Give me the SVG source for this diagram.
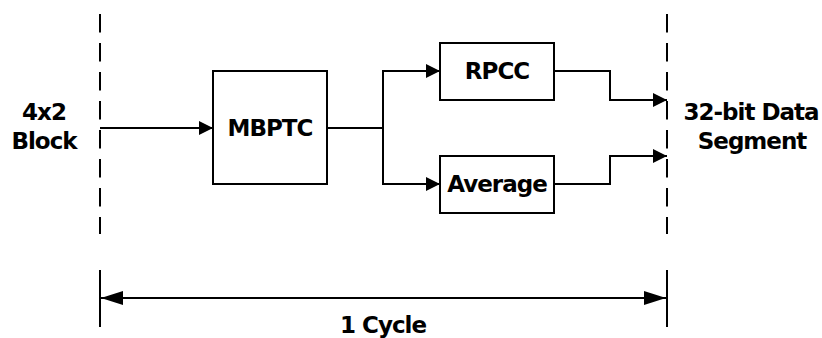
<svg xmlns="http://www.w3.org/2000/svg" width="822" height="338" viewBox="0 0 822 338">
<style>
.box{fill:#fff;stroke:#000;stroke-width:2}
.ln{fill:none;stroke:#000;stroke-width:2}
.dash{fill:none;stroke:#000;stroke-width:2;stroke-dasharray:18.5 10.5}
text{font-family:"DejaVu Sans","Liberation Sans",sans-serif;font-weight:bold;font-size:23px;letter-spacing:-1px;fill:#000;text-anchor:middle}
</style>
<defs>
<marker id="ah" markerUnits="userSpaceOnUse" markerWidth="16" markerHeight="16" refX="14" refY="8" orient="auto">
<path d="M0,1 L14,8 L0,15 Z" fill="#000"/>
</marker>
<marker id="big" markerUnits="userSpaceOnUse" markerWidth="24" markerHeight="16" refX="22" refY="8" orient="auto-start-reverse">
<path d="M0,1 L22,8 L0,15 Z" fill="#000"/>
</marker>
</defs>
<g id="boundaries">
<line class="dash" x1="100" y1="14" x2="100" y2="234"/>
<line class="dash" x1="667" y1="14" x2="667" y2="234"/>
<line class="ln" x1="100" y1="270" x2="100" y2="327"/>
<line class="ln" x1="667" y1="270" x2="667" y2="327"/>
</g>
<g id="input-label"><text x="44" y="120">4x2</text><text x="44" y="149">Block</text></g>
<g id="output-label"><text x="751" y="120">32-bit Data</text><text x="752" y="149">Segment</text></g>
<g id="mbptc"><rect class="box" x="213" y="71" width="114" height="113"/><text x="270" y="136">MBPTC</text></g>
<g id="rpcc"><rect class="box" x="440" y="43" width="114" height="57"/><text x="497" y="79">RPCC</text></g>
<g id="average"><rect class="box" x="440" y="156" width="114" height="57"/><text x="497" y="192">Average</text></g>
<g id="connectors">
<polyline class="ln" points="100,128 213,128" marker-end="url(#ah)"/>
<polyline class="ln" points="327,128 383,128"/>
<polyline class="ln" points="383,128 383,71 440,71" marker-end="url(#ah)"/>
<polyline class="ln" points="383,128 383,184 440,184" marker-end="url(#ah)"/>
<polyline class="ln" points="554,71 610,71 610,100 667,100" marker-end="url(#ah)"/>
<polyline class="ln" points="554,184 610,184 610,156 667,156" marker-end="url(#ah)"/>
<line class="ln" x1="101" y1="298" x2="666" y2="298" marker-start="url(#big)" marker-end="url(#big)"/>
</g>
<g id="cycle-label"><text x="383" y="333">1 Cycle</text></g>
</svg>
